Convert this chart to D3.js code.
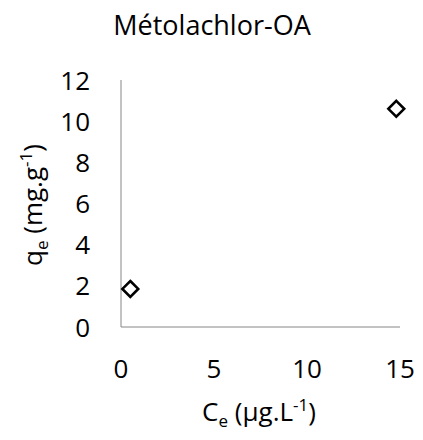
<!DOCTYPE html>
<html>
<head>
<meta charset="utf-8">
<script src="https://d3js.org/d3.v7.min.js"></script>
<style>
  body { margin: 0; background: #fff; }
  text { font-family: "Open Sans", "Liberation Sans", sans-serif; fill: #000; }
</style>
</head>
<body>
<script>
// Data
const ceValues = [0.5, 14.8];
const qeValues = [1.85, 10.6];
const xTicks = [0, 5, 10, 15];
const yTicks = [0, 2, 4, 6, 8, 10, 12];

const outerWidth = 423;
const outerHeight = 440;
const margin = { top: 80, right: 23, bottom: 113, left: 121 };

const svg = d3.select("body").append("svg")
    .attr("width", outerWidth)
    .attr("height", outerHeight);

const x = d3.scaleLinear().domain([0, 15]).range([margin.left, outerWidth - margin.right]);
const y = d3.scaleLinear().domain([0, 12]).range([outerHeight - margin.bottom, margin.top]);

// Title
svg.append("text")
    .attr("x", 212).attr("y", 35)
    .attr("text-anchor", "middle")
    .style("font-size", "27px")
    .text("Métolachlor-OA");

// Axes lines
svg.append("line")
    .attr("x1", x(0)).attr("x2", x(0))
    .attr("y1", y(0)).attr("y2", y(12))
    .attr("stroke", "#868686").attr("stroke-width", 1);
svg.append("line")
    .attr("x1", x(0)).attr("x2", x(15))
    .attr("y1", y(0)).attr("y2", y(0))
    .attr("stroke", "#868686").attr("stroke-width", 1);

// Tick labels
svg.selectAll(".ytick").data(yTicks).join("text")
    .attr("class", "ytick")
    .attr("x", 90).attr("y", d => y(d) + 9.5)
    .attr("text-anchor", "end")
    .style("font-size", "26px")
    .text(d => d);

svg.selectAll(".xtick").data(xTicks).join("text")
    .attr("class", "xtick")
    .attr("x", d => x(d)).attr("y", y(0) + 51)
    .attr("text-anchor", "middle")
    .style("font-size", "26px")
    .text(d => d);

// Axis titles
const xt = svg.append("text")
    .attr("x", 259).attr("y", 421)
    .attr("text-anchor", "middle")
    .style("font-size", "26px");
xt.append("tspan").text("C");
xt.append("tspan").attr("dy", 6).style("font-size", "17px").text("e");
xt.append("tspan").attr("dy", -6).text(" (µg.L");
xt.append("tspan").attr("dy", -10).style("font-size", "17px").text("-1");
xt.append("tspan").attr("dy", 10).text(")");

const yt = svg.append("text")
    .attr("transform", "translate(42,205) rotate(-90)")
    .attr("text-anchor", "middle")
    .style("font-size", "26px");
yt.append("tspan").text("q");
yt.append("tspan").attr("dy", 6).style("font-size", "17px").text("e");
yt.append("tspan").attr("dy", -6).text(" (mg.g");
yt.append("tspan").attr("dy", -10).style("font-size", "17px").text("-1");
yt.append("tspan").attr("dy", 10).text(")");

// Points: hollow diamonds
const diamond = d3.symbol().type(d3.symbolDiamond2).size(160);
svg.selectAll(".pt").data(ceValues.map((c, i) => [c, qeValues[i]])).join("path")
    .attr("class", "pt")
    .attr("d", diamond)
    .attr("transform", d => `translate(${x(d[0])},${y(d[1])})`)
    .attr("fill", "none")
    .attr("stroke", "#000")
    .attr("stroke-width", 2.6);
</script>
</body>
</html>
